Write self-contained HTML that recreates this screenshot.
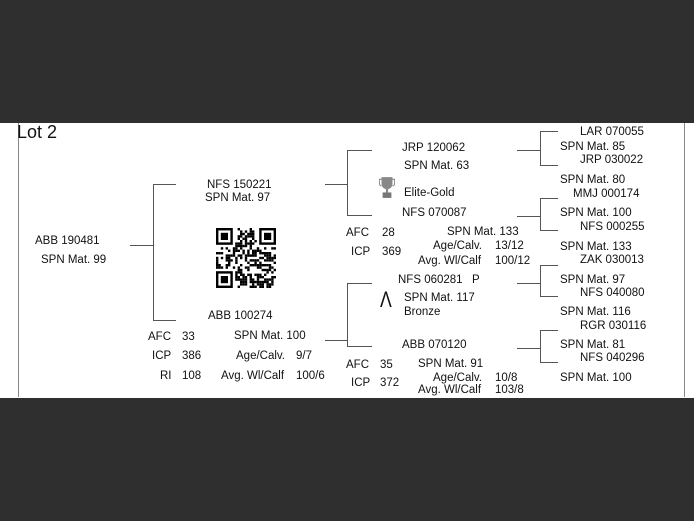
<!DOCTYPE html>
<html><head><meta charset="utf-8"><style>
html,body{margin:0;padding:0}
body{width:694px;height:521px;background:#2f2f2f;position:relative;overflow:hidden;font-family:"Liberation Sans",Arial,sans-serif;font-size:11.5px;color:#111}
#w{position:absolute;left:0;top:123px;width:694px;height:275px;background:#fff}
#b{position:absolute;left:18px;top:123px;width:665px;height:274px;border-left:1px solid #888;border-right:1px solid #888}
.t{position:absolute;white-space:nowrap;line-height:14px}
.l{position:absolute;background:#555}
</style></head><body>
<div id="w"></div><div id="b"></div>
<div class="t" style="left:17px;top:123px;font-size:18px;line-height:18px">Lot 2</div>

<!-- lines -->
<div class="l" style="left:130px;top:245px;width:23px;height:1px"></div>
<div class="l" style="left:153px;top:184px;width:1px;height:137px"></div>
<div class="l" style="left:153px;top:184px;width:23px;height:1px"></div>
<div class="l" style="left:153px;top:320px;width:23px;height:1px"></div>

<div class="l" style="left:325px;top:184px;width:22px;height:1px"></div>
<div class="l" style="left:347px;top:150px;width:1px;height:66px"></div>
<div class="l" style="left:347px;top:150px;width:25px;height:1px"></div>
<div class="l" style="left:347px;top:215px;width:25px;height:1px"></div>

<div class="l" style="left:325px;top:340px;width:22px;height:1px"></div>
<div class="l" style="left:347px;top:283px;width:1px;height:64px"></div>
<div class="l" style="left:347px;top:283px;width:25px;height:1px"></div>
<div class="l" style="left:347px;top:346px;width:25px;height:1px"></div>

<div class="l" style="left:517px;top:150px;width:23px;height:1px"></div>
<div class="l" style="left:540px;top:131px;width:1px;height:35px"></div>
<div class="l" style="left:540px;top:131px;width:18px;height:1px"></div>
<div class="l" style="left:540px;top:165px;width:18px;height:1px"></div>

<div class="l" style="left:517px;top:216px;width:23px;height:1px"></div>
<div class="l" style="left:540px;top:198px;width:1px;height:33px"></div>
<div class="l" style="left:540px;top:198px;width:18px;height:1px"></div>
<div class="l" style="left:540px;top:230px;width:18px;height:1px"></div>

<div class="l" style="left:517px;top:283px;width:23px;height:1px"></div>
<div class="l" style="left:540px;top:265px;width:1px;height:32px"></div>
<div class="l" style="left:540px;top:265px;width:18px;height:1px"></div>
<div class="l" style="left:540px;top:296px;width:18px;height:1px"></div>

<div class="l" style="left:517px;top:348px;width:23px;height:1px"></div>
<div class="l" style="left:540px;top:330px;width:1px;height:33px"></div>
<div class="l" style="left:540px;top:330px;width:18px;height:1px"></div>
<div class="l" style="left:540px;top:362px;width:18px;height:1px"></div>

<!-- left -->
<div class="t" style="left:35px;top:234px">ABB 190481</div>
<div class="t" style="left:41px;top:253px">SPN Mat. 99</div>
<div class="t" style="left:207px;top:178px">NFS 150221</div>
<div class="t" style="left:205px;top:191px">SPN Mat. 97</div>
<svg id="qr" style="position:absolute;left:216px;top:228px" width="60" height="60" viewBox="0 0 25 25"></svg>
<div class="t" style="left:208px;top:309px">ABB 100274</div>
<div class="t" style="left:148px;top:330px">AFC</div><div class="t" style="left:182px;top:330px">33</div>
<div class="t" style="left:234px;top:329px">SPN Mat. 100</div>
<div class="t" style="left:152px;top:349px">ICP</div><div class="t" style="left:182px;top:349px">386</div>
<div class="t" style="left:236px;top:349px">Age/Calv.</div><div class="t" style="left:296px;top:349px">9/7</div>
<div class="t" style="left:160px;top:369px">RI</div><div class="t" style="left:182px;top:369px">108</div>
<div class="t" style="left:221px;top:369px">Avg. Wl/Calf</div><div class="t" style="left:296px;top:369px">100/6</div>

<!-- middle -->
<div class="t" style="left:402px;top:141px">JRP 120062</div>
<div class="t" style="left:404px;top:159px">SPN Mat. 63</div>
<svg style="position:absolute;left:379px;top:176px" width="16" height="23" viewBox="0 0 14 21">
<path d="M2 1h10v6c0 3-2 5-5 5s-5-2-5-5z" fill="#888"/><path d="M2 3H0v3c0 2 1 3 2 3M12 3h2v3c0 2-1 3-2 3" stroke="#888" fill="none"/>
<rect x="6" y="11" width="2" height="4" fill="#888"/><rect x="3" y="15" width="8" height="5" fill="#777"/></svg>
<div class="t" style="left:404px;top:186px">Elite-Gold</div>
<div class="t" style="left:402px;top:206px">NFS 070087</div>
<div class="t" style="left:346px;top:226px">AFC</div><div class="t" style="left:382px;top:226px">28</div>
<div class="t" style="left:447px;top:225px">SPN Mat. 133</div>
<div class="t" style="left:351px;top:245px">ICP</div><div class="t" style="left:382px;top:245px">369</div>
<div class="t" style="left:433px;top:239px">Age/Calv.</div><div class="t" style="left:495px;top:239px">13/12</div>
<div class="t" style="left:418px;top:254px">Avg. Wl/Calf</div><div class="t" style="left:495px;top:254px">100/12</div>
<div class="t" style="left:398px;top:273px">NFS 060281</div><div class="t" style="left:472px;top:273px">P</div>
<div class="t" style="left:380px;top:288px;font-size:22px;line-height:24px;font-weight:300;transform:scaleX(0.8);transform-origin:left">&#923;</div>
<div class="t" style="left:404px;top:291px">SPN Mat. 117</div>
<div class="t" style="left:404px;top:305px">Bronze</div>
<div class="t" style="left:402px;top:338px">ABB 070120</div>
<div class="t" style="left:346px;top:358px">AFC</div><div class="t" style="left:380px;top:358px">35</div>
<div class="t" style="left:418px;top:357px">SPN Mat. 91</div>
<div class="t" style="left:351px;top:376px">ICP</div><div class="t" style="left:380px;top:376px">372</div>
<div class="t" style="left:433px;top:371px">Age/Calv.</div><div class="t" style="left:495px;top:371px">10/8</div>
<div class="t" style="left:418px;top:383px">Avg. Wl/Calf</div><div class="t" style="left:495px;top:383px">103/8</div>

<!-- right -->
<div class="t" style="left:580px;top:125px">LAR 070055</div>
<div class="t" style="left:560px;top:140px">SPN Mat. 85</div>
<div class="t" style="left:580px;top:153px">JRP 030022</div>
<div class="t" style="left:560px;top:173px">SPN Mat. 80</div>
<div class="t" style="left:573px;top:187px">MMJ 000174</div>
<div class="t" style="left:560px;top:206px">SPN Mat. 100</div>
<div class="t" style="left:580px;top:220px">NFS 000255</div>
<div class="t" style="left:560px;top:240px">SPN Mat. 133</div>
<div class="t" style="left:580px;top:253px">ZAK 030013</div>
<div class="t" style="left:560px;top:273px">SPN Mat. 97</div>
<div class="t" style="left:580px;top:286px">NFS 040080</div>
<div class="t" style="left:560px;top:305px">SPN Mat. 116</div>
<div class="t" style="left:580px;top:319px">RGR 030116</div>
<div class="t" style="left:560px;top:338px">SPN Mat. 81</div>
<div class="t" style="left:580px;top:351px">NFS 040296</div>
<div class="t" style="left:560px;top:371px">SPN Mat. 100</div>

<script>
(function(){var s=document.getElementById('qr'),h='',r=12345;
function rnd(){r=(r*1103515245+12345)&0x7fffffff;return r/0x7fffffff;}
function inF(x,y,a,b){return x>=a&&x<a+8&&y>=b&&y<b+8;}
for(var y=0;y<25;y++)for(var x=0;x<25;x++){
 if(inF(x,y,0,0)||inF(x,y,17,0)||inF(x,y,0,17))continue;
 if(rnd()<0.5)h+='<rect x="'+x+'" y="'+y+'" width="1" height="1"/>';}
[[0,0],[18,0],[0,18]].forEach(function(p){var a=p[0],b=p[1];
 h+='<rect x="'+(a+0.5)+'" y="'+(b+0.5)+'" width="6" height="6" fill="none" stroke="#000" stroke-width="1"/><rect x="'+(a+2)+'" y="'+(b+2)+'" width="3" height="3"/>';});
s.innerHTML=h;})();
</script>
</body></html>
